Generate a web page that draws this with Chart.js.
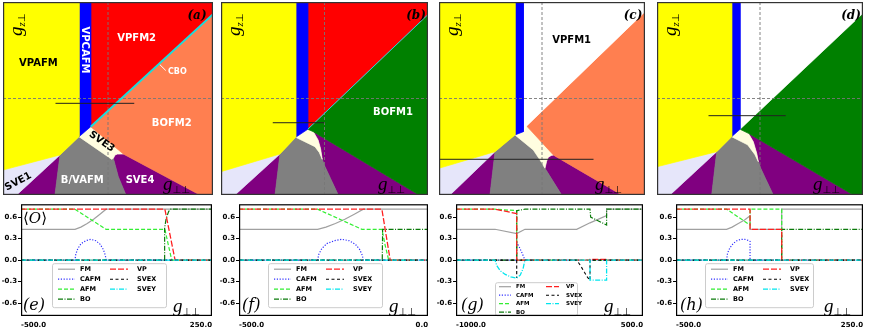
<!DOCTYPE html>
<html>
<head>
<meta charset="utf-8">
<script src="https://cdn.jsdelivr.net/npm/chart.js@4.4.0/dist/chart.umd.min.js"></script>
<style>
  body { margin: 0; background: #fff; width: 872px; height: 333px; position: relative; overflow: hidden; }
  canvas { position: absolute; }
</style>
</head>
<body>
<canvas id="pa" width="210" height="193" style="left:3px;top:2px"></canvas>
<canvas id="pb" width="207" height="193" style="left:221px;top:2px"></canvas>
<canvas id="pc" width="206" height="193" style="left:439px;top:2px"></canvas>
<canvas id="pd" width="206" height="193" style="left:657px;top:2px"></canvas>
<canvas id="pe" width="216" height="134" style="left:0px;top:199px"></canvas>
<canvas id="pf" width="216" height="134" style="left:216px;top:199px"></canvas>
<canvas id="pg" width="213" height="134" style="left:434px;top:199px"></canvas>
<canvas id="ph" width="220" height="134" style="left:652px;top:199px"></canvas>
<script>
// ---- phase diagrams (g_perp_perp, g_z_perp), both axes -1000..1000 ----
const PHASE_RANGE = [-1000, 1000];
const ZERO_V = [[0, -1000], [0, 1000]];
const ZERO_H = [[-1000, 0], [1000, 0]];

// (a)
const A_VPAFM = [[-1000, 1000], [-276, 1000], [-276, -396], [-457, -585], [-1000, -741]];
const A_VPCAFM = [[-276, 1000], [-165, 1000], [-165, -292], [-276, -396]];
const A_VPFM2 = [[-165, 1000], [1000, 1000], [1000, 873], [-165, -292]];
const A_BOFM2 = [[-165, -292], [1000, 873], [1000, -1000], [876, -1000], [146, -575]];
const A_SVE3 = [[-276, -396], [-165, -292], [146, -575], [90, -576], [67, -585], [51, -620], [35, -630]];
const A_BVAFM = [[-276, -396], [35, -630], [51, -620], [98, -810], [171, -1000], [-505, -1000], [-457, -585]];
const A_SVE4 = [[51, -620], [67, -585], [90, -576], [146, -575], [876, -1000], [171, -1000], [98, -810]];
const A_SVE1 = [[-1000, -741], [-457, -585], [-870, -1000], [-1000, -1000]];
const A_WEDGE = [[-457, -585], [-505, -1000], [-870, -1000]];
const A_CBO = [[-165, -292], [1000, 873]];
const A_CBO_PTR = [[489, 356], [550, 290]];
const A_CUT = [[-500, -50], [250, -50]];

// (b)
const B_VPAFM = [[-1000, 1000], [-278, 1000], [-278, -402], [-430, -575], [-1000, -758]];
const B_VPCAFM = [[-278, 1000], [-162, 1000], [-162, -319], [-278, -402]];
const B_VPFM2 = [[-162, 1000], [1000, 1000], [1000, 870], [-162, -319]];
const B_BOFM1 = [[-162, -319], [1000, 870], [1000, -1000], [913, -1000], [-108, -344]];
const B_SVE3 = [[-278, -402], [-162, -319], [-108, -344], [-62, -430], [-38, -520], [-22, -630], [-50, -560], [-92, -499]];
const B_BVAFM = [[-278, -402], [-92, -499], [-50, -560], [-22, -630], [5, -706], [133, -1000], [-478, -1000], [-430, -575]];
const B_SVE4 = [[-108, -344], [913, -1000], [133, -1000], [5, -706], [-22, -630], [-38, -520], [-62, -430]];
const B_SVE1 = [[-1000, -758], [-430, -575], [-865, -1000], [-1000, -1000]];
const B_WEDGE = [[-430, -575], [-478, -1000], [-865, -1000]];
const B_CBO = [[-162, -319], [1000, 870]];
const B_CUT = [[-500, -251], [0, -251]];

// (c)
const C_VPAFM = [[-1000, 1000], [-262, 1000], [-262, -378], [-456, -551], [-1000, -723]];
const C_VPCAFM = [[-262, 1000], [-181, 1000], [-181, -344], [-262, -378]];
const C_VPFM1 = [[-181, 1000], [1000, 1000], [1000, 900], [-149, -285], [-181, -344]];
const C_BOFM2 = [[-149, -285], [1000, 900], [1000, -1000], [774, -1000], [120, -592], [110, -585]];
const C_SVE3 = [[-262, -378], [-181, -344], [-149, -285], [110, -585], [90, -590], [61, -610], [45, -650], [29, -723], [-19, -637], [-84, -534]];
const C_BVAFM = [[-262, -378], [-84, -534], [-19, -637], [29, -723], [191, -1000], [-505, -1000], [-456, -551]];
const C_SVE4 = [[29, -723], [45, -650], [61, -610], [90, -590], [120, -592], [774, -1000], [191, -1000]];
const C_SVE1 = [[-1000, -723], [-456, -551], [-893, -1000], [-1000, -1000]];
const C_WEDGE = [[-456, -551], [-505, -1000], [-893, -1000]];
const C_CUT = [[-1000, -630], [500, -630]];

// (d)
const D_VPAFM = [[-1000, 1000], [-275, 1000], [-275, -396], [-420, -551], [-1000, -707]];
const D_VPCAFM = [[-275, 1000], [-194, 1000], [-194, -319], [-275, -396]];
const D_VPFM1 = [[-194, 1000], [1000, 1000], [1000, 883], [-194, -319]];
const D_BOFM1 = [[-194, -319], [1000, 883], [1000, -1000], [906, -1000], [-113, -361]];
const D_SVE3 = [[-275, -396], [-194, -319], [-113, -361], [-65, -448], [-32, -568], [-16, -655], [-50, -580], [-120, -480]];
const D_BVAFM = [[-275, -396], [-120, -480], [-50, -580], [-16, -655], [10, -730], [129, -1000], [-469, -1000], [-420, -551]];
const D_SVE4 = [[-113, -361], [906, -1000], [129, -1000], [10, -730], [-16, -655], [-32, -568], [-65, -448]];
const D_SVE1 = [[-1000, -707], [-420, -551], [-874, -1000], [-1000, -1000]];
const D_WEDGE = [[-420, -551], [-469, -1000], [-874, -1000]];
const D_CUT = [[-500, -178], [250, -178]];

// ---- order parameters along the cuts ----
const SERIES = ['FM', 'CAFM', 'AFM', 'BO', 'VP', 'SVEX', 'SVEY'];
const Y_TICKS = [-0.6, -0.3, 0.0, 0.3, 0.6];
const Y_RANGE = [-0.78, 0.78];

// (e)
const E_RANGE = [-500, 250];
const E_FM = [[-500, 0.43], [-288, 0.43], [-265, 0.46], [-240, 0.51], [-215, 0.57], [-190, 0.64], [-166, 0.71], [250, 0.71]];
const E_CAFM = [[-500, 0], [-288, 0], [-285, 0.08], [-277, 0.16], [-264, 0.23], [-246, 0.27], [-226, 0.29], [-206, 0.27], [-189, 0.22], [-177, 0.15], [-169, 0.07], [-166, 0], [250, 0]];
const E_AFM = [[-500, 0.71], [-288, 0.71], [-166, 0.43], [65, 0.43], [78, 0.22], [92, 0], [250, 0]];
const E_BO = [[-500, 0], [64, 0], [64, 0.45], [70, 0.58], [80, 0.68], [88, 0.71], [250, 0.71]];
const E_VP = [[-500, 0.71], [65, 0.71], [105, 0], [250, 0]];
const E_SVEX = [[-500, 0], [250, 0]];
const E_SVEY = [[-500, 0], [250, 0]];

// (f)
const F_RANGE = [-500, 0];
const F_FM = [[-500, 0.43], [-292, 0.43], [-270, 0.46], [-245, 0.51], [-220, 0.57], [-195, 0.64], [-171, 0.71], [0, 0.71]];
const F_CAFM = [[-500, 0], [-292, 0], [-289, 0.08], [-281, 0.16], [-268, 0.23], [-248, 0.27], [-228, 0.29], [-208, 0.27], [-192, 0.22], [-181, 0.15], [-174, 0.07], [-171, 0], [0, 0]];
const F_AFM = [[-500, 0.71], [-292, 0.71], [-175, 0.43], [-122, 0.43], [-113, 0.2], [-104, 0], [0, 0]];
const F_BO = [[-500, 0], [-121, 0], [-120, 0.43], [0, 0.43]];
const F_VP = [[-500, 0.71], [-122, 0.71], [-100, 0], [0, 0]];
const F_SVEX = [[-500, 0], [0, 0]];
const F_SVEY = [[-500, 0], [0, 0]];

// (g)
const G_RANGE = [-1000, 500];
const G_FM = [[-1000, 0.43], [-687, 0.43], [-513, 0.37], [-447, 0.43], [-32, 0.43], [75, 0.52], [208, 0.62], [208, 0.71], [500, 0.71]];
const G_CAFM = [[-1000, 0], [-513, 0], [-513, 0.25], [-492, 0.18], [-468, 0.09], [-447, 0], [500, 0]];
const G_AFM = [[-1000, 0.71], [-687, 0.71], [-513, 0.69], [-513, 0], [500, 0]];
const G_BO = [[-1000, 0], [-513, 0], [-513, 0.69], [-447, 0.71], [75, 0.71], [80, 0.6], [208, 0.49], [208, 0.71], [500, 0.71]];
const G_VP = [[-1000, 0.71], [-687, 0.71], [-513, 0.65], [-513, 0], [75, 0], [75, 0.01], [208, 0.01], [208, 0], [500, 0]];
const G_SVEX = [[-1000, 0], [-513, 0], [-513, -0.25], [-513, 0], [-32, 0], [0, -0.08], [30, -0.17], [55, -0.24], [75, -0.28], [75, 0], [500, 0]];
const G_SVEY = [[-1000, 0], [-687, 0], [-672, -0.08], [-645, -0.15], [-605, -0.2], [-560, -0.235], [-513, -0.25], [-485, -0.21], [-462, -0.12], [-447, 0], [75, 0], [75, -0.28], [208, -0.28], [208, 0], [500, 0]];

// (h)
const H_RANGE = [-500, 250];
const H_FM = [[-500, 0.43], [-297, 0.43], [-275, 0.46], [-250, 0.51], [-225, 0.56], [-203, 0.62], [-203, 0.43], [-76, 0.43], [-76, 0.71], [250, 0.71]];
const H_CAFM = [[-500, 0], [-297, 0], [-293, 0.1], [-284, 0.17], [-271, 0.23], [-256, 0.27], [-240, 0.29], [-224, 0.29], [-211, 0.275], [-203, 0.26], [-203, 0], [250, 0]];
const H_AFM = [[-500, 0.71], [-297, 0.71], [-203, 0.49], [-203, 0.71], [-76, 0.71], [-76, 0], [250, 0]];
const H_BO = [[-500, 0], [-76, 0], [-76, 0.43], [250, 0.43]];
const H_VP = [[-500, 0.71], [-203, 0.71], [-203, 0.43], [-76, 0.43], [-76, 0], [250, 0]];
const H_SVEX = [[-500, 0], [250, 0]];
const H_SVEY = [[-500, 0], [250, 0]];

// ---- styles ----
const COL = {
  yellow: '#ffff00', blue: '#0000ff', red: '#ff0000', coral: '#ff7f50', green: '#008000',
  purple: '#800080', gray: '#808080', lavender: '#e6e6fa', cream: '#fffde0', white: '#ffffff'
};
const LINE_STYLE = {
  FM: {color: '#a0a0a0', dash: [], width: 1.2},
  CAFM: {color: '#3030ff', dash: [1.2, 1.6], width: 1.2},
  AFM: {color: '#33ee33', dash: [4, 2], width: 1.2},
  BO: {color: '#0a7a0a', dash: [5, 1.5, 1, 1.5], width: 1.2},
  VP: {color: '#ff2020', dash: [6, 2], width: 1.3},
  SVEX: {color: '#000000', dash: [3, 2.5], width: 1.1},
  SVEY: {color: '#00e5ee', dash: [5, 1.5, 1, 1.5], width: 1.3}
};
const FONT_REGION = 'bold 10px "DejaVu Sans"';
const FONT_G = 'italic 19px "Liberation Serif"';
const FONT_SUB = '10px "DejaVu Sans"';
const FONT_TICK = {family: 'DejaVu Sans', size: 7, weight: 'bold'};

Chart.defaults.font.family = 'DejaVu Sans';

// text drawn at data coords (x, y) or at offsets from the plot box corners
function textPlugin(items) {
  return {
    id: 'panelText',
    afterDatasetsDraw(chart) {
      const {ctx, chartArea: a, scales} = chart;
      items.forEach(it => {
        let px, py;
        if (it.x !== undefined) {
          px = scales.x.getPixelForValue(it.x);
          py = scales.y.getPixelForValue(it.y);
        } else {
          px = it.ax === 'right' ? a.right - it.ox : a.left + it.ox;
          py = it.ay === 'bottom' ? a.bottom - it.oy : a.top + it.oy;
        }
        const parts = it.parts || [{t: it.text, font: it.font || FONT_REGION, color: it.color}];
        ctx.save();
        ctx.translate(px, py);
        ctx.rotate((it.rot || 0) * Math.PI / 180);
        ctx.textBaseline = it.baseline || 'middle';
        ctx.textAlign = 'left';
        let total = 0;
        parts.forEach(p => { ctx.font = p.font; total += ctx.measureText(p.t).width; });
        let cx = it.align === 'left' ? 0 : -total / 2;
        parts.forEach(p => {
          ctx.font = p.font;
          ctx.fillStyle = p.color || it.color || '#000';
          ctx.fillText(p.t, cx, p.dy || 0);
          cx += ctx.measureText(p.t).width;
        });
        ctx.restore();
      });
    }
  };
}

function framePlugin(color, width) {
  return {
    id: 'frame',
    afterDraw(chart) {
      const {ctx, chartArea: a} = chart;
      ctx.save();
      ctx.strokeStyle = color;
      ctx.lineWidth = width;
      ctx.strokeRect(a.left + width / 2, a.top + width / 2, a.right - a.left - width, a.bottom - a.top - width);
      ctx.restore();
    }
  };
}

function legendPlugin(L) {
  return {
    id: 'legendBox',
    afterDatasetsDraw(chart) {
      const {ctx, chartArea: a} = chart;
      const bx = a.left + L.x, by = a.top + L.y;
      ctx.save();
      ctx.beginPath();
      ctx.roundRect(bx + 0.5, by + 0.5, L.w, L.h, 2);
      ctx.fillStyle = 'rgba(255,255,255,0.85)';
      ctx.fill();
      ctx.strokeStyle = '#cccccc';
      ctx.lineWidth = 1;
      ctx.stroke();
      chart.data.datasets.forEach((ds, i) => {
        const col = i < 4 ? 0 : 1;
        const row = col ? i - 4 : i;
        const ly = by + L.row0 + row * L.step;
        const [l0, l1, tx] = col ? L.c2 : L.c1;
        ctx.beginPath();
        ctx.setLineDash(ds.borderDash);
        ctx.strokeStyle = ds.borderColor;
        ctx.lineWidth = ds.borderWidth;
        ctx.moveTo(bx + l0, ly);
        ctx.lineTo(bx + l1, ly);
        ctx.stroke();
        ctx.setLineDash([]);
        ctx.fillStyle = '#000';
        ctx.font = L.font;
        ctx.textBaseline = 'middle';
        ctx.fillText(ds.label, bx + tx, ly);
      });
      ctx.restore();
    }
  };
}

function cornerTexts(tag, tagOff) {
  return [
    {ax: 'right', ox: tagOff, ay: 'top', oy: 14, text: '(' + tag + ')', font: 'italic bold 12px "DejaVu Serif"', color: '#000'},
    {ax: 'left', ox: 19, ay: 'top', oy: 34, rot: -90, align: 'left', baseline: 'alphabetic',
      parts: [{t: 'g', font: FONT_G}, {t: 'z', font: 'italic 11px "Liberation Serif"', dy: 3}, {t: '⊥', font: FONT_SUB, dy: 3}]},
    {ax: 'right', ox: 50, ay: 'bottom', oy: 5, align: 'left', baseline: 'alphabetic',
      parts: [{t: 'g', font: FONT_G}, {t: '⊥⊥', font: FONT_SUB, dy: 3}]}
  ];
}

function phaseChart(id, regions, lines, texts) {
  const datasets = [];
  lines.forEach(l => datasets.push({
    data: l.pts, showLine: true, fill: false, borderColor: l.color, borderWidth: l.width,
    borderDash: l.dash || [], pointRadius: 0, order: 0
  }));
  regions.forEach(r => datasets.push({
    data: r.pts.concat([r.pts[0]]), showLine: true, fill: 'shape', backgroundColor: r.color,
    borderColor: r.color, borderWidth: 0.7, pointRadius: 0, order: 10
  }));
  new Chart(document.getElementById(id), {
    type: 'scatter',
    data: {datasets},
    options: {
      responsive: false, animation: false, events: [], devicePixelRatio: 1,
      layout: {padding: 0},
      scales: {
        x: {type: 'linear', min: PHASE_RANGE[0], max: PHASE_RANGE[1], display: false},
        y: {type: 'linear', min: PHASE_RANGE[0], max: PHASE_RANGE[1], display: false}
      },
      plugins: {legend: {display: false}, tooltip: {enabled: false}}
    },
    plugins: [textPlugin(texts), framePlugin('#333333', 1.2)]
  });
}

const guideLines = [
  {pts: ZERO_V, color: '#777777', width: 0.9, dash: [3, 2]},
  {pts: ZERO_H, color: '#777777', width: 0.9, dash: [3, 2]}
];

phaseChart('pa', [
  {pts: A_VPAFM, color: COL.yellow}, {pts: A_VPCAFM, color: COL.blue}, {pts: A_VPFM2, color: COL.red},
  {pts: A_BOFM2, color: COL.coral}, {pts: A_SVE3, color: COL.cream}, {pts: A_BVAFM, color: COL.gray},
  {pts: A_SVE4, color: COL.purple}, {pts: A_SVE1, color: COL.lavender}, {pts: A_WEDGE, color: COL.purple}
], [
  {pts: A_CUT, color: '#222222', width: 1},
  {pts: A_CBO, color: '#1adcdc', width: 2},
  {pts: A_CBO_PTR, color: '#ffffff', width: 1}
].concat(guideLines), [
  {x: -663, y: 365, text: 'VPAFM', color: '#000'},
  {x: -219, y: 503, text: 'VPCAFM', color: '#fff', rot: 90},
  {x: 273, y: 624, text: 'VPFM2', color: '#fff'},
  {x: 660, y: 271, text: 'CBO', font: 'bold 8px "DejaVu Sans"', color: '#fff'},
  {x: 607, y: -257, text: 'BOFM2', color: '#fff'},
  {x: -60, y: -448, text: 'SVE3', color: '#000', rot: 35},
  {x: -854, y: -862, text: 'SVE1', color: '#000', rot: -28},
  {x: -245, y: -852, text: 'B/VAFM', color: '#fff'},
  {x: 305, y: -852, text: 'SVE4', color: '#fff'}
].concat(cornerTexts('a', 16)));

phaseChart('pb', [
  {pts: B_VPAFM, color: COL.yellow}, {pts: B_VPCAFM, color: COL.blue}, {pts: B_VPFM2, color: COL.red},
  {pts: B_BOFM1, color: COL.green}, {pts: B_SVE3, color: COL.cream}, {pts: B_BVAFM, color: COL.gray},
  {pts: B_SVE4, color: COL.purple}, {pts: B_SVE1, color: COL.lavender}, {pts: B_WEDGE, color: COL.purple}
], [
  {pts: B_CUT, color: '#222222', width: 1},
  {pts: B_CBO, color: '#1adcdc', width: 1}
].concat(guideLines), [
  {x: 662, y: -140, text: 'BOFM1', color: '#fff'}
].concat(cornerTexts('b', 12)));

phaseChart('pc', [
  {pts: C_VPAFM, color: COL.yellow}, {pts: C_VPCAFM, color: COL.blue}, {pts: C_VPFM1, color: COL.white},
  {pts: C_BOFM2, color: COL.coral}, {pts: C_SVE3, color: COL.cream}, {pts: C_BVAFM, color: COL.gray},
  {pts: C_SVE4, color: COL.purple}, {pts: C_SVE1, color: COL.lavender}, {pts: C_WEDGE, color: COL.purple}
], [
  {pts: C_CUT, color: '#222222', width: 1}
].concat(guideLines), [
  {x: 288, y: 606, text: 'VPFM1', color: '#000'}
].concat(cornerTexts('c', 12)));

phaseChart('pd', [
  {pts: D_VPAFM, color: COL.yellow}, {pts: D_VPCAFM, color: COL.blue}, {pts: D_VPFM1, color: COL.white},
  {pts: D_BOFM1, color: COL.green}, {pts: D_SVE3, color: COL.cream}, {pts: D_BVAFM, color: COL.gray},
  {pts: D_SVE4, color: COL.purple}, {pts: D_SVE1, color: COL.lavender}, {pts: D_WEDGE, color: COL.purple}
], [
  {pts: D_CUT, color: '#222222', width: 1}
].concat(guideLines), cornerTexts('d', 12));

// ---- line plots ----
const LEG_STD = {x: 31, y: 59, w: 114, h: 44, row0: 6, step: 10, c1: [6, 23, 28], c2: [58, 76, 85], font: 'bold 6.5px "DejaVu Sans"'};
const LEG_G = {x: 39, y: 78, w: 82, h: 33, row0: 4.5, step: 8.5, c1: [4, 16, 21], c2: [51, 64, 71], font: 'bold 5.5px "DejaVu Sans"'};

function cutChart(id, range, series, yWidth, padRight, legend, tag, tagOff, withO) {
  const datasets = series.map((pts, i) => {
    const s = LINE_STYLE[SERIES[i]];
    return {
      label: SERIES[i], data: pts, showLine: true, fill: false, borderColor: s.color,
      borderWidth: s.width, borderDash: s.dash, pointRadius: 0, order: SERIES.length - i
    };
  });
  const texts = [
    {ax: 'left', ox: tagOff, ay: 'bottom', oy: 10, align: 'left', text: '(' + tag + ')', font: 'italic 16px "DejaVu Serif"', color: '#000'},
    {ax: 'right', ox: 39, ay: 'bottom', oy: 4, align: 'left', baseline: 'alphabetic',
      parts: [{t: 'g', font: FONT_G}, {t: '⊥⊥', font: FONT_SUB, dy: 3}]}
  ];
  if (withO) {
    texts.push({ax: 'left', ox: 2, ay: 'top', oy: 15, align: 'left',
      parts: [{t: '⟨', font: '15px "DejaVu Sans"'}, {t: 'O', font: 'italic 15px "DejaVu Serif"'}, {t: '⟩', font: '15px "DejaVu Sans"'}]});
  }
  new Chart(document.getElementById(id), {
    type: 'scatter',
    data: {datasets},
    options: {
      responsive: false, animation: false, events: [], devicePixelRatio: 1,
      layout: {padding: {left: 0, top: 3, right: padRight, bottom: 0}},
      scales: {
        x: {
          type: 'linear', min: range[0], max: range[1],
          afterBuildTicks: s => { s.ticks = [{value: range[0]}, {value: range[1]}]; },
          afterFit: s => { s.height = 17; },
          border: {display: false},
          grid: {display: false, tickLength: 3},
          ticks: {align: 'inner', maxRotation: 0, padding: 2, color: '#000', font: FONT_TICK, callback: v => v.toFixed(1)}
        },
        y: {
          type: 'linear', min: Y_RANGE[0], max: Y_RANGE[1],
          afterBuildTicks: s => { s.ticks = Y_TICKS.map(v => ({value: v})); },
          afterFit: s => { s.width = yWidth; },
          border: {display: false},
          grid: {drawOnChartArea: false, tickLength: 3, color: '#000'},
          ticks: {padding: 1, color: '#000', font: FONT_TICK, callback: v => v.toFixed(1)}
        }
      },
      plugins: {legend: {display: false}, tooltip: {enabled: false}}
    },
    plugins: [legendPlugin(legend), textPlugin(texts), framePlugin('#000000', 1.2)]
  });
}

cutChart('pe', E_RANGE, [E_FM, E_CAFM, E_AFM, E_BO, E_VP, E_SVEX, E_SVEY], 21, 4, LEG_STD, 'e', 2, true);
cutChart('pf', F_RANGE, [F_FM, F_CAFM, F_AFM, F_BO, F_VP, F_SVEX, F_SVEY], 23, 4, Object.assign({}, LEG_STD, {x: 29}), 'f', 3, false);
cutChart('pg', G_RANGE, [G_FM, G_CAFM, G_AFM, G_BO, G_VP, G_SVEX, G_SVEY], 22, 4, LEG_G, 'g', 5, false);
cutChart('ph', H_RANGE, [H_FM, H_CAFM, H_AFM, H_BO, H_VP, H_SVEX, H_SVEY], 24, 9, Object.assign({}, LEG_STD, {x: 29, w: 108}), 'h', 4, false);
</script>
</body>
</html>
